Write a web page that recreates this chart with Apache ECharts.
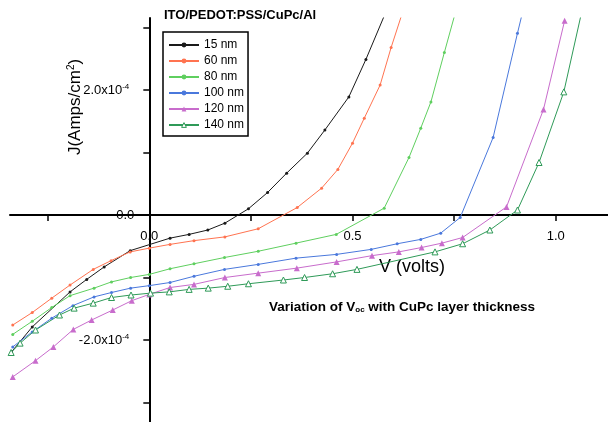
<!DOCTYPE html>
<html>
<head>
<meta charset="utf-8">
<script src="https://cdn.jsdelivr.net/npm/echarts@6/dist/echarts.min.js"></script>
<style>
  html, body { margin: 0; padding: 0; background: #fff; }
  #chart { width: 608px; height: 422px; }
</style>
</head>
<body>
<div id="chart"></div>
<script>
// J-V curves of ITO/PEDOT:PSS/CuPc/Al cells, one per CuPc thickness.
// Each point is [bias V (volts), current density J (units of 1e-4 A/cm^2)].
const J_UNIT = 1e-4;

const thicknessNames = ['15 nm', '60 nm', '80 nm', '100 nm', '120 nm', '140 nm'];

const jv15 = [
  [-0.339, -2.19], [-0.288, -1.79], [-0.195, -1.23], [-0.154, -1.03], [-0.111, -0.83],
  [-0.047, -0.57], [0.051, -0.37], [0.098, -0.31], [0.144, -0.24], [0.186, -0.13],
  [0.244, 0.10], [0.291, 0.36], [0.338, 0.67], [0.389, 0.99], [0.432, 1.36],
  [0.491, 1.89], [0.533, 2.49], [0.59, 3.37]
];
const jv60 = [
  [-0.336, -1.76], [-0.288, -1.56], [-0.24, -1.33], [-0.195, -1.12], [-0.138, -0.87],
  [-0.094, -0.73], [-0.047, -0.59], [0.0, -0.53], [0.051, -0.47], [0.11, -0.41],
  [0.186, -0.35], [0.268, -0.22], [0.364, 0.12], [0.424, 0.43], [0.464, 0.73],
  [0.5, 1.15], [0.529, 1.55], [0.568, 2.08], [0.595, 2.68], [0.63, 3.38]
];
const jv80 = [
  [-0.336, -1.91], [-0.288, -1.70], [-0.24, -1.48], [-0.195, -1.29], [-0.136, -1.17],
  [-0.093, -1.07], [-0.046, -1.0], [0.0, -0.95], [0.051, -0.86], [0.11, -0.78],
  [0.185, -0.68], [0.268, -0.58], [0.361, -0.45], [0.46, -0.31], [0.578, 0.11],
  [0.639, 0.92], [0.668, 1.39], [0.693, 1.81], [0.726, 2.6], [0.76, 3.4]
];
const jv100 = [
  [-0.336, -2.11], [-0.288, -1.87], [-0.24, -1.65], [-0.188, -1.45], [-0.136, -1.31],
  [-0.093, -1.24], [-0.046, -1.17], [0.0, -1.13], [0.051, -1.08], [0.11, -0.98],
  [0.185, -0.87], [0.268, -0.79], [0.361, -0.69], [0.461, -0.63], [0.546, -0.55],
  [0.61, -0.46], [0.668, -0.39], [0.717, -0.29], [0.765, -0.04], [0.846, 1.24],
  [0.906, 2.91], [0.925, 3.42]
];
const jv120 = [
  [-0.336, -2.59], [-0.28, -2.33], [-0.236, -2.11], [-0.187, -1.83], [-0.142, -1.68],
  [-0.09, -1.52], [-0.043, -1.37], [0.0, -1.27], [0.051, -1.16], [0.11, -1.11],
  [0.186, -1.0], [0.268, -0.93], [0.363, -0.85], [0.461, -0.75], [0.548, -0.65],
  [0.614, -0.59], [0.67, -0.52], [0.72, -0.45], [0.771, -0.36], [0.879, 0.13],
  [0.97, 1.69], [1.022, 3.11]
];
const jv140 = [
  [-0.34, -2.2], [-0.318, -2.05], [-0.28, -1.84], [-0.221, -1.60], [-0.185, -1.49],
  [-0.138, -1.41], [-0.093, -1.32], [-0.045, -1.28], [0.003, -1.25], [0.049, -1.23],
  [0.098, -1.19], [0.145, -1.17], [0.193, -1.14], [0.244, -1.10], [0.33, -1.04],
  [0.382, -1.0], [0.451, -0.94], [0.511, -0.87], [0.703, -0.59], [0.771, -0.46],
  [0.838, -0.24], [0.906, 0.08], [0.959, 0.84], [1.02, 1.97], [1.075, 3.57]
];

// Axis ticks (labels land on every other tick: 0.5 V and 2x10^-4 A/cm^2 steps)
const vTicks = [-0.25, 0.25, 0.5, 0.75, 1.0];
const jTicks = [-3, -2, -1, 1, 2, 3];
const V_LABEL_STEP = 0.5;
const J_LABEL_STEP = 2;

const curves = [jv15, jv60, jv80, jv100, jv120, jv140];
const colors = ['#1a1a1a', '#ff7350', '#5fcf5f', '#4a78dc', '#c86ccc', '#2f9a58'];
const symbols = ['circle', 'circle', 'circle', 'circle', 'triangle', 'triangle'];
const symbolSizes = [3, 3, 3, 3, 6, 6];
const hollow = [false, false, false, false, false, true];

const toAmps = pts => pts.map(p => [p[0], p[1] * J_UNIT]);
const onStep = (v, step) => Math.abs(v / step - Math.round(v / step)) < 1e-6;
const markerStyle = i => hollow[i]
  ? { color: '#fff', borderColor: colors[i], borderWidth: 1 }
  : { color: colors[i], borderWidth: 0 };

// Plot frame: the two axes cross at (0 V, 0 A/cm^2), drawn through the middle of the grid.
const GRID = { left: 10, right: 0, top: 18, bottom: 0 };
const V_MIN = -0.3428, V_MAX = 1.1287;
const J_MIN = -3.312, J_MAX = 3.152;
const PLOT_W = 608 - GRID.left - GRID.right;
const PLOT_H = 422 - GRID.top - GRID.bottom;
// shift each axis from the grid edge onto the zero of the other axis
const xAxisShift = -PLOT_H * (0 - J_MIN) / (J_MAX - J_MIN);
const yAxisShift = -PLOT_W * (0 - V_MIN) / (V_MAX - V_MIN);

const chart = echarts.init(document.getElementById('chart'), null, { renderer: 'canvas' });

const fontFamily = '"Liberation Sans", Arial, sans-serif';

chart.setOption({
  animation: false,
  backgroundColor: '#fff',
  textStyle: { fontFamily: fontFamily },
  grid: Object.assign({ containLabel: false, outerBoundsMode: 'none' }, GRID),
  legend: {
    data: thicknessNames.map((name, i) => ({ name: name, itemStyle: markerStyle(i) })),
    orient: 'vertical',
    left: 163,
    top: 32,
    padding: [6, 4, 4, 5],
    itemWidth: 30,
    itemHeight: 6,
    itemGap: 2,
    borderColor: '#000',
    borderWidth: 1.5,
    textStyle: { fontSize: 12, color: '#000', lineHeight: 14, fontFamily: fontFamily }
  },
  xAxis: {
    type: 'value',
    position: 'bottom',
    offset: xAxisShift,
    min: V_MIN,
    max: V_MAX,
    splitNumber: 3,
    splitLine: { show: false },
    axisLine: { onZero: false, lineStyle: { color: '#000', width: 2 } },
    axisTick: { customValues: vTicks, length: 6, lineStyle: { color: '#000', width: 1.5 } },
    axisLabel: {
      showMinLabel: false,
      showMaxLabel: false,
      margin: 15,
      fontSize: 13,
      color: '#000',
      formatter: v => (onStep(v, V_LABEL_STEP) ? v.toFixed(1) : '')
    }
  },
  yAxis: {
    type: 'value',
    position: 'left',
    offset: yAxisShift,
    min: J_MIN * J_UNIT,
    max: J_MAX * J_UNIT,
    splitNumber: 3,
    splitLine: { show: false },
    axisLine: { onZero: false, lineStyle: { color: '#000', width: 2 } },
    axisTick: { customValues: jTicks.map(t => t * J_UNIT), length: 6, lineStyle: { color: '#000', width: 1.5 } },
    axisLabel: {
      showMinLabel: false,
      showMaxLabel: false,
      margin: 15,
      fontSize: 13,
      color: '#000',
      formatter: v => {
        const m = v / J_UNIT;
        if (!onStep(m, J_LABEL_STEP)) return '';
        if (Math.abs(m) < 1e-9) return '0.0';
        return '{b|' + m.toFixed(1) + 'x10}{sup|-4}';
      },
      rich: {
        b: { fontSize: 13, color: '#000', fontFamily: fontFamily },
        sup: { fontSize: 8, color: '#000', verticalAlign: 'top', padding: [0, 5, 6, 0], fontFamily: fontFamily }
      }
    }
  },
  graphic: [
    {
      type: 'text',
      x: 164,
      y: 15,
      style: {
        text: 'ITO/PEDOT:PSS/CuPc/Al',
        font: 'bold 13px ' + fontFamily,
        fill: '#000',
        textVerticalAlign: 'middle'
      }
    },
    {
      type: 'text',
      x: 269,
      y: 307,
      style: {
        text: 'Variation of V{sub|oc} with CuPc layer thickness',
        font: 'bold 13.5px ' + fontFamily,
        fill: '#000',
        textVerticalAlign: 'middle',
        rich: {
          sub: { font: 'bold 8px ' + fontFamily, fill: '#000', verticalAlign: 'bottom', padding: [6, 0, 0, 0] }
        }
      }
    },
    {
      type: 'text',
      x: 75,
      y: 107,
      rotation: Math.PI / 2,
      style: {
        text: 'J(Amps/cm{sup|2})',
        font: '17px ' + fontFamily,
        fill: '#000',
        textAlign: 'center',
        textVerticalAlign: 'middle',
        rich: {
          sup: { font: '10px ' + fontFamily, fill: '#000', verticalAlign: 'top', padding: [0, 0, 8, 0] }
        }
      }
    },
    {
      type: 'text',
      x: 412,
      y: 267,
      style: {
        text: 'V (volts)',
        font: '18px ' + fontFamily,
        fill: '#000',
        textAlign: 'center',
        textVerticalAlign: 'middle'
      }
    }
  ],
  series: curves.map((pts, i) => ({
    name: thicknessNames[i],
    type: 'line',
    data: toAmps(pts),
    clip: true,
    symbol: symbols[i],
    symbolSize: symbolSizes[i],
    showSymbol: true,
    itemStyle: markerStyle(i),
    lineStyle: { color: colors[i], width: 1 },
    emphasis: { disabled: true }
  }))
});
</script>
</body>
</html>
